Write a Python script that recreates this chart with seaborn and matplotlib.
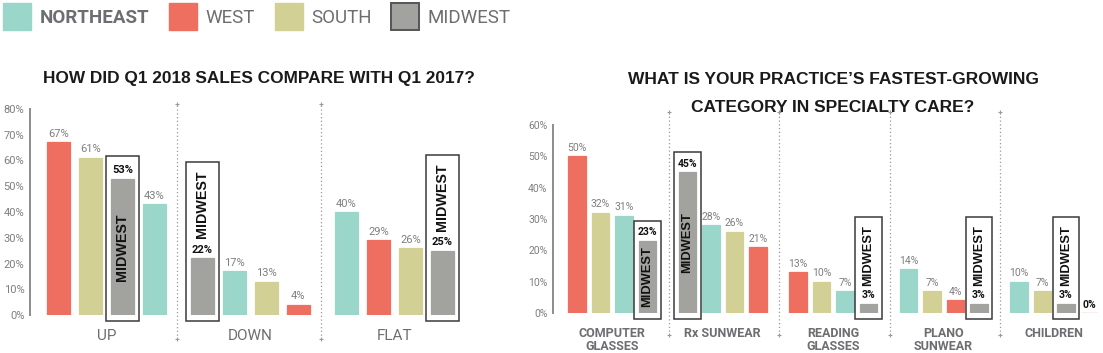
import numpy as np
import pandas as pd
import matplotlib.pyplot as plt
import seaborn as sns
from matplotlib.patches import Patch, Rectangle

# regions and colours
regions = ["NORTHEAST", "WEST", "SOUTH", "MIDWEST"]
colors = ["#9bd6cb", "#ee6e60", "#d3d095", "#a2a29e"]

# left chart: Q1 2018 vs Q1 2017 sales
sales_groups = ["UP", "DOWN", "FLAT"]
sales_northeast = [43, 17, 40]
sales_west = [67, 4, 29]
sales_south = [61, 13, 26]
sales_midwest = [53, 22, 25]

# right chart: fastest-growing specialty category
care_groups = ["COMPUTER\nGLASSES", "Rx SUNWEAR", "READING\nGLASSES", "PLANO\nSUNWEAR", "CHILDREN"]
care_northeast = [31, 28, 7, 14, 10]
care_west = [50, 21, 13, 4, 0]
care_south = [32, 26, 10, 7, 7]
care_midwest = [23, 45, 3, 3, 3]

GRAY_TXT = "#6d6e71"
NARROW = ["Liberation Sans Narrow", "Liberation Sans", "DejaVu Sans"]


def build(groups, ne, we, so, mw, step):
    rows = []
    for gi, g in enumerate(groups):
        vals = dict(zip(regions, [ne[gi], we[gi], so[gi], mw[gi]]))
        ranked = sorted(regions, key=lambda r: -vals[r])
        for rank, r in enumerate(ranked):
            rows.append({"group": g, "region": r, "value": vals[r], "pos": gi * step + rank})
    return pd.DataFrame(rows)


def draw(ax, df, groups, step, ymax, xlim, val_size, mw_size, cat_size, cat_weight,
         cat_pad, sep_top, tall_pad, short_pad, mw_gap):
    width = 0.74
    sns.barplot(data=df, x="pos", y="value", hue="region", hue_order=regions,
                palette=colors, native_scale=True, dodge=False, width=width,
                saturation=1, legend=False, ax=ax)
    for p in ax.patches:
        p.set_edgecolor(p.get_facecolor())
        p.set_linewidth(0.9)

    ax.set_xlim(*xlim)
    ax.set_ylim(0, ymax)
    ax.set_xlabel("")
    ax.set_ylabel("")

    # pixel scales
    o = ax.transData.transform((0, 0))
    d = ax.transData.transform((1, 1))
    ppx, ppy = d[0] - o[0], d[1] - o[1]

    for _, r in df.iterrows():
        pos, v = r["pos"], r["value"]
        if r["region"] != "MIDWEST":
            bold = v == 0
            ax.annotate(f"{v}%", (pos, v), xytext=(0, 2.5), textcoords="offset points",
                        ha="center", va="bottom", size=val_size,
                        color="#111111" if bold else "#7f7f7f",
                        weight="bold" if bold else "normal")
            continue
        ax.annotate(f"{v}%", (pos, v), xytext=(0, 2.5), textcoords="offset points",
                    ha="center", va="bottom", size=val_size, color="#111111", weight="bold")
        if v * ppy > 65:
            ax.text(pos, v / 2, "MIDWEST", rotation=90, ha="center", va="center",
                    size=mw_size, weight="bold", color="#111111", family=NARROW[1:])
            top = v + tall_pad / ppy
        else:
            ax.annotate("MIDWEST", (pos, v), xytext=(0, mw_gap * 0.72),
                        textcoords="offset points", rotation=90, ha="center", va="bottom",
                        size=mw_size, weight="bold", color="#111111", family=NARROW[1:])
            top = v + short_pad / ppy
        padx = 4.5 / ppx
        bottom = -6 / ppy
        ax.add_patch(Rectangle((pos - width / 2 - padx, bottom), width + 2 * padx, top - bottom,
                               fill=False, edgecolor="#3a3a3a", lw=1.1, clip_on=False))

    # dotted separators between groups
    for gi in range(1, len(groups)):
        ax.axvline(gi * step - 0.8, ymin=-0.115, ymax=sep_top, ls=(0, (1, 2)), color="#9a9a9a",
                   lw=0.9, clip_on=False, marker="+", ms=3, mew=0.8)

    sns.despine(ax=ax, bottom=True)
    ax.spines["left"].set_color("#8c8c8c")
    ax.spines["left"].set_linewidth(1.4)
    ax.spines["left"].set_bounds(0, ymax)
    ticks = np.arange(0, ymax + 1, 10)
    ax.set_yticks(ticks, [f"{t}%" for t in ticks])
    ax.tick_params(axis="y", direction="in", length=7, width=1.4, color="#8c8c8c",
                   labelcolor="#7f7f7f", labelsize=val_size, pad=4)
    ax.set_xticks([gi * step + 1.5 for gi in range(len(groups))], groups)
    ax.tick_params(axis="x", length=0, pad=cat_pad, labelcolor=GRAY_TXT, labelsize=cat_size)
    for t in ax.get_xticklabels():
        t.set_fontweight(cat_weight)
        t.set_linespacing(1.0)


sns.set_style("white")
plt.rcParams["font.family"] = ["Roboto", "DejaVu Sans"]

W, H = 1103, 353
fig = plt.figure(figsize=(W / 100, H / 100), dpi=100)

ax1 = fig.add_axes([30 / W, (H - 315) / H, 440 / W, 206 / H])
ax2 = fig.add_axes([553 / W, (H - 313) / H, 550 / W, 188 / H])

left = build(sales_groups, sales_northeast, sales_west, sales_south, sales_midwest, 4.5)
right = build(care_groups, care_northeast, care_west, care_south, care_midwest, 4.7)

draw(ax1, left, sales_groups, 4.5, 80, (-0.89, 12.86), 8, 10.3, 11, "normal", 10,
     1.024, 23, 96, 20)
draw(ax2, right, care_groups, 4.7, 60, (-1.02, 22.38), 7.5, 9.3, 9, "bold", 10,
     1.07, 20, 87, 18)

# titles
title_kw = dict(ha="center", va="center", weight="bold", color="#1a1a1a", family=NARROW)
fig.text(259 / W, 1 - 78 / H, "HOW DID Q1 2018 SALES COMPARE WITH Q1 2017?", size=12.4, **title_kw)
fig.text(833 / W, 1 - 80 / H, "WHAT IS YOUR PRACTICE\u2019S FASTEST-GROWING", size=12.5, **title_kw)
fig.text(833 / W, 1 - 107 / H, "CATEGORY IN SPECIALTY CARE?", size=12.5, **title_kw)

# legend
handles = [Patch(facecolor=c, edgecolor=c, lw=1) for c in colors[:3]]
handles.append(Patch(facecolor=colors[3], edgecolor="#555555", lw=1.4))
leg = fig.legend(handles, regions, loc="upper left", bbox_to_anchor=(3 / W, 1 - 3 / H),
                 ncol=4, frameon=False, fontsize=13.5, handlelength=1.5, handleheight=1.85,
                 handletextpad=0.45, columnspacing=1.05, borderpad=0, borderaxespad=0)
for i, t in enumerate(leg.get_texts()):
    t.set_color(GRAY_TXT)
    if i == 0:
        t.set_fontweight("bold")

fig.savefig("out.png", dpi=100)
